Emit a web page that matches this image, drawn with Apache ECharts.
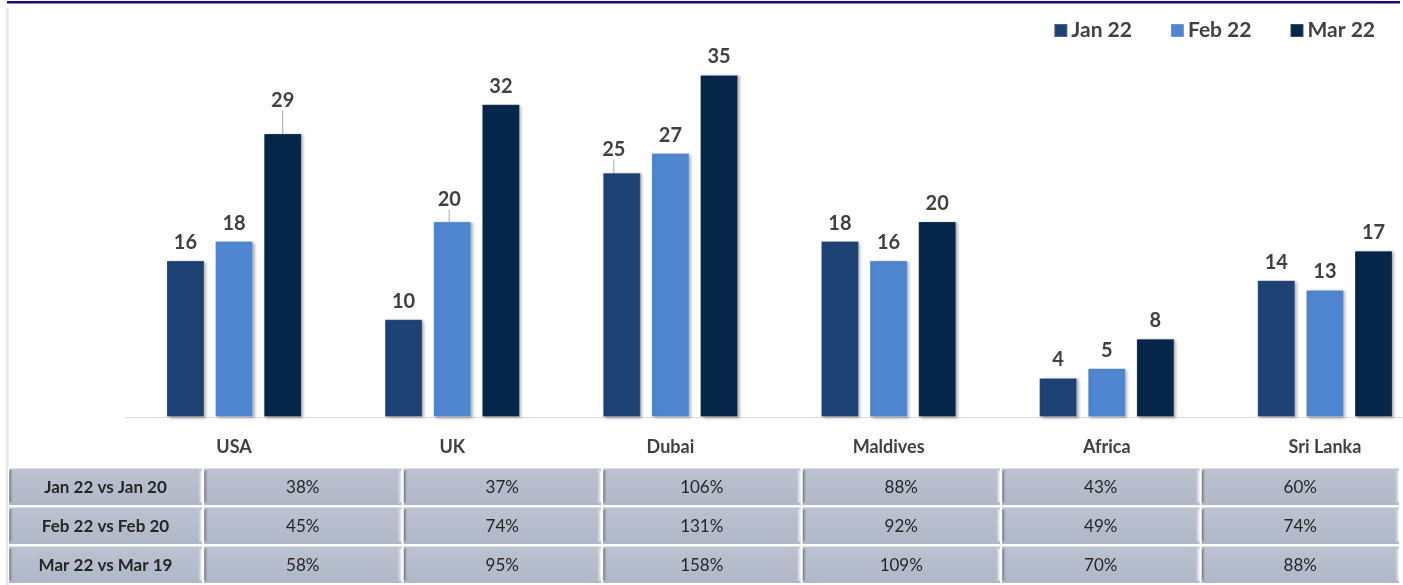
<!DOCTYPE html>
<html>
<head>
<meta charset="utf-8">
<script src="https://cdn.jsdelivr.net/npm/echarts@6/dist/echarts.min.js"></script>
<style>
html,body{margin:0;padding:0;background:#fff;overflow:hidden;width:1403px;height:585px;}
#chart{width:1435px;height:585px;}
</style>
</head>
<body>
<div id="chart"></div>
<script>
var categories = ['USA', 'UK', 'Dubai', 'Maldives', 'Africa', 'Sri Lanka'];
var seriesNames = ['Jan 22', 'Feb 22', 'Mar 22'];
var jan22 = [16, 10, 25, 18, 4, 14];
var feb22 = [18, 20, 27, 16, 5, 13];
var mar22 = [29, 32, 35, 20, 8, 17];

var rowLabels = ['Jan 22 vs Jan 20', 'Feb 22 vs Feb 20', 'Mar 22 vs Mar 19'];
var janVsJan20 = ['38%', '37%', '106%', '88%', '43%', '60%'];
var febVsFeb20 = ['45%', '74%', '131%', '92%', '49%', '74%'];
var marVsMar19 = ['58%', '95%', '158%', '109%', '70%', '88%'];

var FONT = 'Lato, "Open Sans", sans-serif';
var colors = ['#1f4275', '#4f86cf', '#06264a'];

var chart = echarts.init(document.getElementById('chart'), null, {renderer: 'canvas'});

// labels moved away from their bars (with leader lines), as in the reference
var movedLabels = { '2-0': {dy: -15}, '1-1': {dy: -4, dx: -3}, '0-2': {dy: -5, dx: -8} };

function makeSeries(name, values, idx) {
  var data = values.map(function (v, i) {
    if (movedLabels[idx + '-' + i]) {
      return { value: v, labelLine: { show: true } };
    }
    return v;
  });
  return {
    name: name,
    type: 'bar',
    data: data,
    barWidth: 38,
    barGap: '28%',
    itemStyle: {
      color: colors[idx],
      borderColor: 'rgba(255,255,255,0.18)',
      borderWidth: 1,
      shadowColor: 'rgba(0,0,0,0.35)',
      shadowBlur: 3,
      shadowOffsetX: 2,
      shadowOffsetY: 1
    },
    label: {
      show: true,
      position: 'top',
      distance: 8,
      fontFamily: FONT,
      fontWeight: 'bold',
      fontSize: 20,
      color: '#404040'
    },
    labelLine: { show: false, lineStyle: { color: '#a6a6a6', width: 1 } },
    labelLayout: function (p) {
      var m = movedLabels[p.seriesIndex + '-' + p.dataIndex];
      return m ? m : {};
    }
  };
}

// table graphics
var tableRows = [janVsJan20, febVsFeb20, marVsMar19];
var graphics = [];
var tableTop = 467, rowH = 39, labelX = 8, labelW = 195, colX0 = 203, colW = 199.5;
graphics.push({ type: 'rect', shape: {x: 7, y: 1, width: 1393, height: 2.5}, style: {fill: '#1a0b80'}, silent: true });
graphics.push({ type: 'rect', shape: {x: 6, y: 8, width: 2.5, height: 577}, style: {fill: '#e6e6e6'}, silent: true });
function cell(x, y, w, h, text, bold) {
  graphics.push({ type: 'rect', shape: {x: x, y: y, width: w, height: h}, style: {fill: '#ffffff'}, silent: true });
  graphics.push({ type: 'rect', shape: {x: x + 1, y: y + 1.5, width: w - 2, height: h - 2.5},
    style: {fill: new echarts.graphic.LinearGradient(0, 0, 0, 1, [{offset: 0, color: '#bcc2d0'}, {offset: 1, color: '#b0b7c7'}])}, silent: true });
  graphics.push({ type: 'rect', shape: {x: x + 1.5, y: y + 3, width: 4, height: h - 6, r: 2},
    style: {fill: new echarts.graphic.LinearGradient(0, 0, 1, 0, [{offset: 0, color: '#6c717c'}, {offset: 1, color: 'rgba(176,183,199,0)'}])}, silent: true });
  graphics.push({ type: 'rect', shape: {x: x + w - 6, y: y + 3, width: 5, height: h - 6, r: 2},
    style: {fill: new echarts.graphic.LinearGradient(0, 0, 1, 0, [{offset: 0, color: 'rgba(176,183,199,0)'}, {offset: 1, color: '#ffffff'}])}, silent: true });
  graphics.push({ type: 'text', x: x + w / 2, y: y + h / 2 + 1,
    style: {text: text, fill: '#262626', font: (bold ? 'bold ' : '') + '17px ' + FONT, textAlign: 'center', textVerticalAlign: 'middle'}, silent: true });
}
for (var r = 0; r < rowLabels.length; r++) {
  var y = tableTop + r * rowH;
  cell(labelX, y, labelW, rowH, rowLabels[r], true);
  for (var c = 0; c < categories.length; c++) {
    cell(colX0 + c * colW, y, colW, rowH, tableRows[r][c], false);
  }
}

var option = {
  backgroundColor: '#ffffff',
  animation: false,
  textStyle: { fontFamily: FONT },
  legend: {
    data: seriesNames,
    right: 55,
    top: 15,
    itemWidth: 13,
    itemHeight: 13,
    itemGap: 38,
    icon: 'rect',
    textStyle: { fontFamily: FONT, fontWeight: 'bold', fontSize: 21, color: '#404040', padding: [0, 0, 0, -1] }
  },
  grid: { left: 125, top: 26, width: 1309, height: 391 },
  xAxis: {
    type: 'category',
    data: categories,
    axisTick: { show: false },
    axisLine: { lineStyle: { color: '#d9d9d9', width: 1 } },
    axisLabel: { margin: 21, fontFamily: FONT, fontWeight: 'bold', fontSize: 18, color: '#404040', interval: 0 }
  },
  yAxis: { type: 'value', min: 0, max: 40, show: false, splitLine: { show: false } },
  series: [
    makeSeries(seriesNames[0], jan22, 0),
    makeSeries(seriesNames[1], feb22, 1),
    makeSeries(seriesNames[2], mar22, 2)
  ],
  graphic: graphics
};
chart.setOption(option);
</script>
</body>
</html>
